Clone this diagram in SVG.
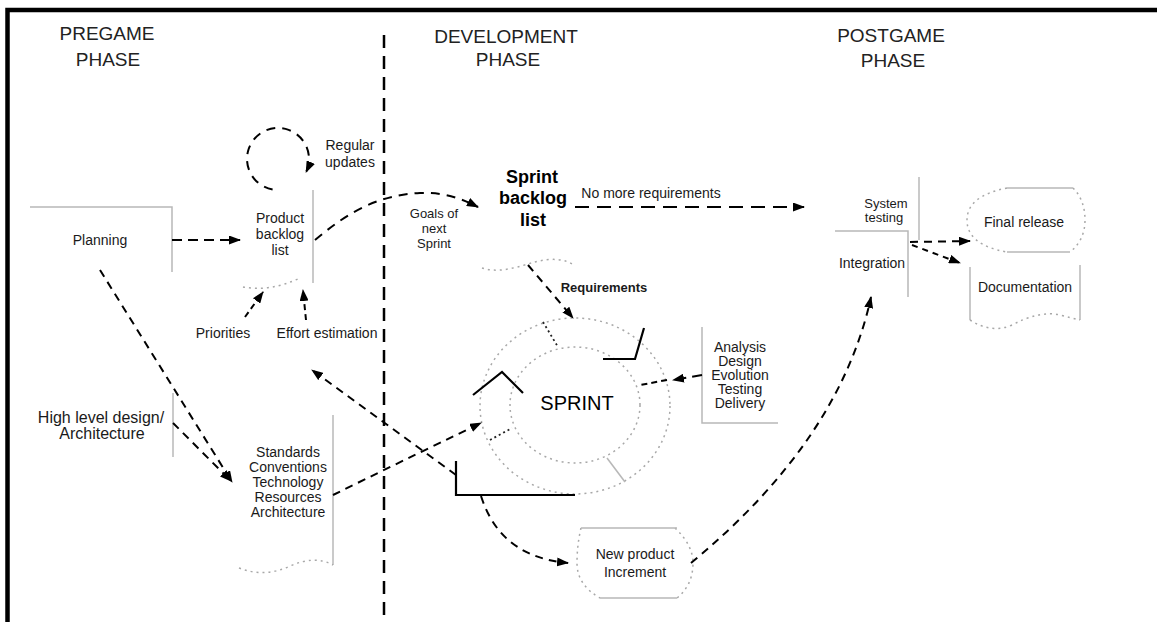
<svg xmlns="http://www.w3.org/2000/svg" width="1157" height="622" viewBox="0 0 1157 622">
<style>
.t{font-family:"Liberation Sans",Arial,Helvetica,sans-serif;font-size:14px;fill:#1a1a1a;text-anchor:middle;dominant-baseline:central}
.h{font-size:19px;fill:#222}
.b{font-weight:bold;font-size:18px;fill:#000}
.g{fill:none;stroke:#b8b8b8;stroke-width:1.5}
.d{fill:none;stroke:#a8a8a8;stroke-width:1.5;stroke-dasharray:2 4}
.k{fill:none;stroke:#222;stroke-width:1.8;stroke-dasharray:2 3}
.c{fill:none;stroke:#000;stroke-width:2;stroke-dasharray:10 6}
.n{fill:none;stroke:#000;stroke-width:2.2}
</style>
<defs>
<marker id="ah" viewBox="0 0 12 9" refX="11" refY="4.5" markerWidth="12" markerHeight="9" markerUnits="userSpaceOnUse" orient="auto"><path d="M0,0 L12,4.5 L0,9 z" fill="#000"/></marker>
</defs>
<rect x="0" y="0" width="1157" height="622" fill="#fff"/>
<rect x="7.5" y="10" width="1200" height="700" fill="none" stroke="#000" stroke-width="4.5"/>
<line x1="384" y1="35" x2="384" y2="622" stroke="#000" stroke-width="2.5" stroke-dasharray="13 8"/>

<g id="headers">
<text class="t h" x="107" y="33">PREGAME</text>
<text class="t h" x="108" y="59">PHASE</text>
<text class="t h" x="506" y="36">DEVELOPMENT</text>
<text class="t h" x="508" y="59">PHASE</text>
<text class="t h" x="891" y="35">POSTGAME</text>
<text class="t h" x="893" y="60">PHASE</text>
</g>

<g id="planning">
<path class="g" d="M30,207 L172,207 L172,272"/>
<text class="t" x="100" y="240">Planning</text>
</g>

<g id="product-backlog">
<path class="g" d="M313,190 L313,283"/>
<path class="d" d="M243,287 Q270,292 300,278"/>
<text class="t" x="280" y="218">Product</text>
<text class="t" x="280" y="234">backlog</text>
<text class="t" x="280" y="250">list</text>
</g>

<g id="regular-updates">
<text class="t" x="350" y="145">Regular</text>
<text class="t" x="350" y="162">updates</text>
</g>

<g id="priorities"><text class="t" x="223" y="333">Priorities</text></g>
<g id="effort"><text class="t" x="327" y="333">Effort estimation</text></g>

<g id="high-level-design">
<path class="g" d="M173,393 L173,457"/>
<text class="t" x="101" y="417" style="font-size:16px">High level design/</text>
<text class="t" x="102" y="433" style="font-size:16px">Architecture</text>
</g>

<g id="standards">
<path class="g" d="M333,415 L333,565"/>
<path class="d" d="M239,568 Q265,578 290,566 Q315,555 333,565"/>
<text class="t" x="288" y="452">Standards</text>
<text class="t" x="288" y="467">Conventions</text>
<text class="t" x="288" y="482">Technology</text>
<text class="t" x="288" y="497">Resources</text>
<text class="t" x="288" y="512">Architecture</text>
</g>

<g id="goals">
<text class="t" x="434" y="213" style="font-size:13px">Goals of</text>
<text class="t" x="434" y="228" style="font-size:13px">next</text>
<text class="t" x="434" y="243" style="font-size:13px">Sprint</text>
</g>

<g id="sprint-backlog">
<text class="t b" x="532" y="177">Sprint</text>
<text class="t b" x="533" y="198">backlog</text>
<text class="t b" x="533" y="220">list</text>
<path class="d" d="M482,268 C500,274 520,266 535,262 S565,258 575,266"/>
</g>

<g id="no-more-req"><text class="t" x="651" y="193">No more requirements</text></g>
<g id="requirements"><text class="t" x="604" y="287" style="font-weight:bold;font-size:13px">Requirements</text></g>

<g id="sprint">
<ellipse class="d" cx="575" cy="406" rx="95" ry="88"/>
<ellipse class="d" cx="575" cy="405" rx="65" ry="58"/>
<path class="k" d="M543,322 L558,347"/>
<path class="k" d="M490,440 L512,428"/>
<path class="g" d="M607,458 L625,482"/>
<path class="n" d="M603,359 L635,359 L644,328"/>
<path class="n" d="M473,395 L502,372 L523,393"/>
<path class="n" d="M456,461 L456,495 L575,495"/>
<text class="t" x="577" y="403" style="font-size:20px;fill:#000">SPRINT</text>
</g>

<g id="analysis">
<path class="g" d="M702,327 L702,423 L778,423"/>
<text class="t" x="740" y="347">Analysis</text>
<text class="t" x="740" y="361">Design</text>
<text class="t" x="740" y="375">Evolution</text>
<text class="t" x="740" y="389">Testing</text>
<text class="t" x="740" y="403">Delivery</text>
</g>

<g id="new-product-increment">
<path class="d" d="M581,528 Q577,545 577,563 Q577,585 600,598 M675,528 Q693,545 693,563 Q693,585 677,598"/>
<path class="g" d="M581,528 L677,528 M600,598 L677,598"/>
<text class="t" x="635" y="554">New product</text>
<text class="t" x="635" y="572">Increment</text>
</g>

<g id="system-testing">
<path class="g" d="M919,177 L919,240"/>
<text class="t" x="886" y="203" style="font-size:13px">System</text>
<text class="t" x="884" y="217" style="font-size:13px">testing</text>
</g>

<g id="integration">
<path class="g" d="M835,231 L908,231 L908,297"/>
<text class="t" x="872" y="263">Integration</text>
</g>

<g id="final-release">
<path class="d" d="M1007,188 Q967,196 967,220 Q967,245 1007,252 M1073,188 Q1085,200 1085,220 Q1085,240 1070,252"/>
<path class="g" d="M1007,188 L1073,188 M1007,252 L1070,252"/>
<text class="t" x="1024" y="222">Final release</text>
</g>

<g id="documentation">
<path class="g" d="M970,267 L970,320 M1080,265 L1080,320"/>
<path class="d" d="M970,320 Q990,333 1010,326 Q1040,310 1060,315 Q1072,318 1080,320"/>
<text class="t" x="1025" y="287">Documentation</text>
</g>

<g id="connectors">
<path class="c" d="M172,240 L240,240" marker-end="url(#ah)"/>
<path class="c" d="M272.6,189.5 A31,31 0 1 1 306.1,172.1" marker-end="url(#ah)" style="stroke-dasharray:9 7"/>
<path class="c" d="M315,240 C345,215 375,195 420,193 C445,192 462,199 478,207" marker-end="url(#ah)" style="stroke-dasharray:9 7"/>
<path class="c" d="M575,207 L804,207" marker-end="url(#ah)" style="stroke-dasharray:14 8"/>
<path class="c" d="M528,265 L573,318" marker-end="url(#ah)" style="stroke-dasharray:8 6"/>
<path class="c" d="M245,317 L263,292" marker-end="url(#ah)" style="stroke-dasharray:6 4"/>
<path class="c" d="M306,320 L303,290" marker-end="url(#ah)" style="stroke-dasharray:6 4"/>
<path class="c" d="M100,270 L232,482" marker-end="url(#ah)" style="stroke-dasharray:8 6"/>
<path class="c" d="M173,423 L231,481" marker-end="url(#ah)" style="stroke-dasharray:8 6"/>
<path class="c" d="M333,495 Q400,462 481,423" marker-end="url(#ah)" style="stroke-dasharray:8 6"/>
<path class="c" d="M456,475 L312,370" marker-end="url(#ah)" style="stroke-dasharray:8 6"/>
<path class="c" d="M481,496 C492,530 515,558 568,563" marker-end="url(#ah)" style="stroke-dasharray:8 6"/>
<path class="c" d="M691,563 Q840,440 871,297" marker-end="url(#ah)" style="stroke-dasharray:8 6"/>
<path class="c" d="M702,375 L673,380" marker-end="url(#ah)"/>
<path class="c" d="M667,380 L640,385" style="stroke-dasharray:6 4"/>
<path class="c" d="M910,242 L970,241" marker-end="url(#ah)" style="stroke-dasharray:8 6"/>
<path class="c" d="M912,245 L960,263" marker-end="url(#ah)" style="stroke-dasharray:6 5"/>
</g>
</svg>
